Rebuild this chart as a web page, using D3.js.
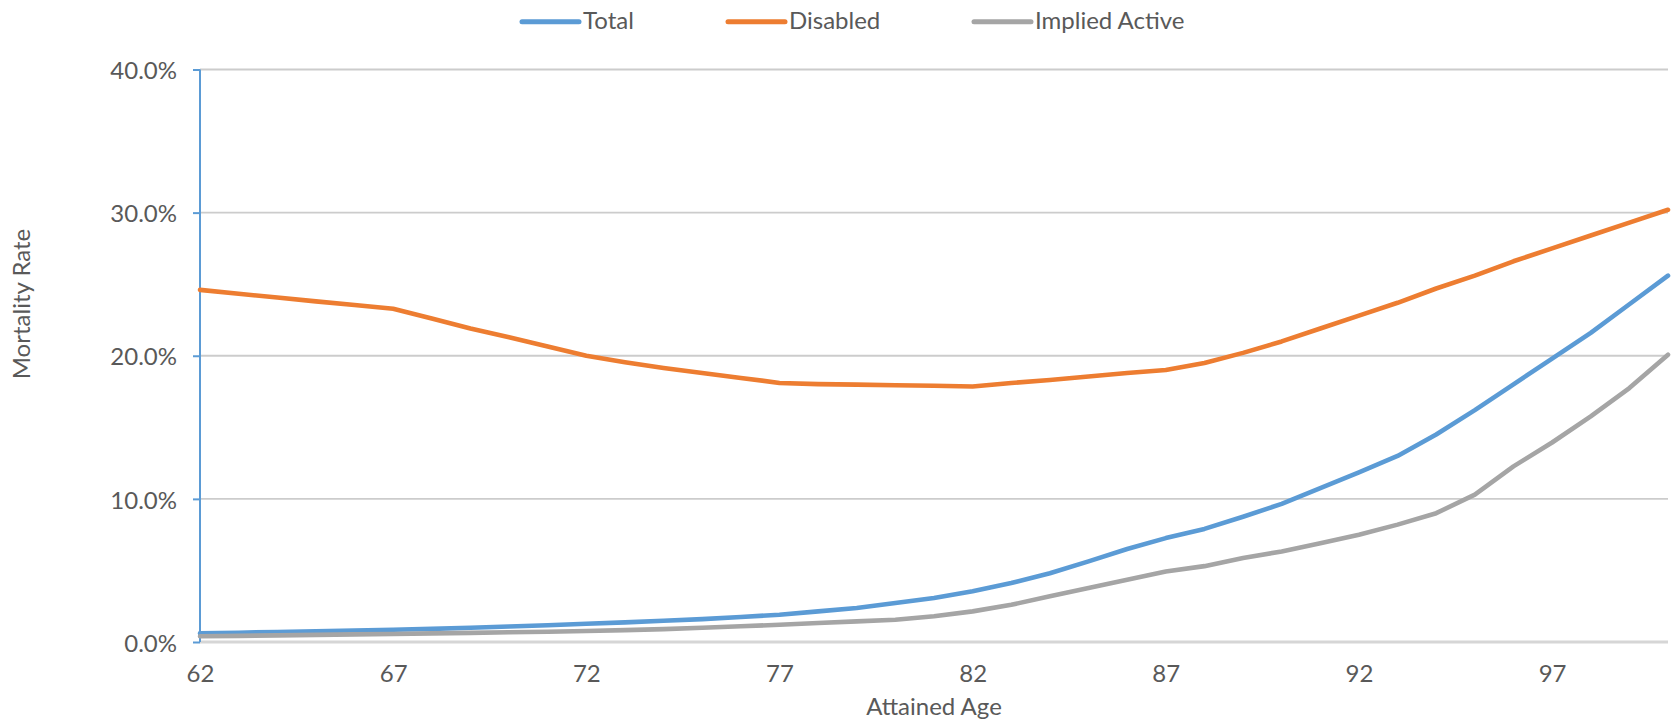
<!DOCTYPE html>
<html>
<head>
<meta charset="utf-8">
<script src="https://cdn.jsdelivr.net/npm/d3@7"></script>
<style>
  html, body { margin: 0; padding: 0; background: #ffffff; }
  svg { display: block; }
  text { font-family: Lato, "Open Sans", sans-serif; fill: #595959; }
</style>
</head>
<body>
<svg id="chart" width="1673" height="726"></svg>
<script>
// Attained ages (category axis)
const ages = [62, 63, 64, 65, 66, 67, 68, 69, 70, 71, 72, 73, 74, 75, 76, 77, 78, 79, 80,
              81, 82, 83, 84, 85, 86, 87, 88, 89, 90, 91, 92, 93, 94, 95, 96, 97, 98, 99, 100];

// Mortality rates, in percent
const total = [0.60, 0.65, 0.70, 0.75, 0.80, 0.86, 0.92, 1.00, 1.08, 1.17, 1.27, 1.37, 1.49,
               1.60, 1.75, 1.90, 2.14, 2.37, 2.72, 3.07, 3.54, 4.12, 4.80, 5.63, 6.50, 7.26,
               7.90, 8.75, 9.65, 10.75, 11.85, 13.00, 14.50, 16.20, 18.00, 19.80, 21.60, 23.60, 25.60];

const disabled = [24.60, 24.33, 24.07, 23.80, 23.54, 23.28, 22.60, 21.90, 21.30, 20.65, 20.00,
                  19.55, 19.15, 18.80, 18.45, 18.10, 18.02, 17.98, 17.94, 17.90, 17.85, 18.10,
                  18.30, 18.55, 18.80, 19.00, 19.50, 20.20, 21.00, 21.90, 22.80, 23.70, 24.70,
                  25.60, 26.60, 27.50, 28.40, 29.30, 30.20];

const impliedActive = [0.40, 0.43, 0.46, 0.50, 0.53, 0.56, 0.60, 0.64, 0.68, 0.72, 0.77, 0.83,
                       0.90, 1.00, 1.10, 1.20, 1.33, 1.44, 1.56, 1.80, 2.14, 2.60, 3.19, 3.77,
                       4.35, 4.93, 5.30, 5.87, 6.33, 6.90, 7.50, 8.20, 9.00, 10.30, 12.27, 13.94,
                       15.76, 17.74, 20.07];

// Axis ticks
const yTicks = [0, 10, 20, 30, 40];
const xTickLabels = [62, 67, 72, 77, 82, 87, 92, 97];

const seriesNames = ["Total", "Disabled", "Implied Active"];
const seriesColors = ["#5B9BD5", "#ED7D31", "#A5A5A5"];

const svg = d3.select("#chart");

const plot = { left: 200, right: 1668, top: 69.5, bottom: 642 };

const x = d3.scalePoint().domain(ages).range([plot.left, plot.right]);
const y = d3.scaleLinear().domain([0, 40]).range([plot.bottom, plot.top]);

// Horizontal gridlines
svg.append("g")
  .selectAll("line")
  .data(yTicks.filter(d => d > 0))
  .join("line")
  .attr("x1", plot.left).attr("x2", plot.right)
  .attr("y1", d => y(d)).attr("y2", d => y(d))
  .attr("stroke", "#cccccc")
  .attr("stroke-width", 1.8);

// Category axis (bottom)
const xAxis = svg.append("g")
  .attr("transform", `translate(0,${plot.bottom})`)
  .call(d3.axisBottom(x).tickValues(xTickLabels).tickSize(0).tickPadding(0));
xAxis.select(".domain").remove();
xAxis.append("line")
  .attr("x1", plot.left).attr("x2", plot.right)
  .attr("y1", 0).attr("y2", 0)
  .attr("stroke", "#d6d6d6")
  .attr("stroke-width", 3);
xAxis.selectAll(".tick text")
  .attr("y", 39.5)
  .attr("dy", null)
  .style("font-size", "24px")
  .style("font-family", "Lato, 'Open Sans', sans-serif")
  .attr("fill", "#595959");

// Value axis (left)
const yAxis = svg.append("g")
  .attr("transform", `translate(${plot.left},0)`)
  .call(d3.axisLeft(y).tickValues(yTicks).tickSize(7).tickPadding(16)
        .tickFormat(d => d.toFixed(1) + "%"));
yAxis.select(".domain")
  .attr("d", `M0,${plot.top}V${plot.bottom}`)
  .attr("stroke", "#5B9BD5")
  .attr("stroke-width", 2);
yAxis.selectAll(".tick line")
  .attr("stroke", "#5B9BD5")
  .attr("stroke-width", 2);
yAxis.selectAll(".tick text")
  .attr("dy", "0.38em")
  .style("font-size", "24px")
  .style("font-family", "Lato, 'Open Sans', sans-serif")
  .attr("fill", "#595959");

// Series lines
const seriesData = [total, disabled, impliedActive];
const line = d3.line()
  .x((d, i) => x(ages[i]))
  .y(d => y(d));

svg.append("g")
  .selectAll("path")
  .data(seriesData)
  .join("path")
  .attr("d", d => line(d))
  .attr("fill", "none")
  .attr("stroke", (d, i) => seriesColors[i])
  .attr("stroke-width", 4.6)
  .attr("stroke-linejoin", "round")
  .attr("stroke-linecap", "round");

// Axis titles
svg.append("text")
  .attr("x", (plot.left + plot.right) / 2)
  .attr("y", 715)
  .attr("text-anchor", "middle")
  .style("font-size", "24px")
  .text("Attained Age");

svg.append("text")
  .attr("transform", "translate(30,304) rotate(-90)")
  .attr("text-anchor", "middle")
  .style("font-size", "24px")
  .text("Mortality Rate");

// Legend
const legendX = [522, 728, 974];
const legend = svg.append("g")
  .selectAll("g")
  .data(seriesNames)
  .join("g")
  .attr("transform", (d, i) => `translate(${legendX[i]},0)`);
legend.append("line")
  .attr("x1", 0).attr("x2", 57)
  .attr("y1", 21.7).attr("y2", 21.7)
  .attr("stroke", (d, i) => seriesColors[i])
  .attr("stroke-width", 5)
  .attr("stroke-linecap", "round");
legend.append("text")
  .attr("x", 61)
  .attr("y", 28.8)
  .style("font-size", "24px")
  .text(d => d);
</script>
</body>
</html>
